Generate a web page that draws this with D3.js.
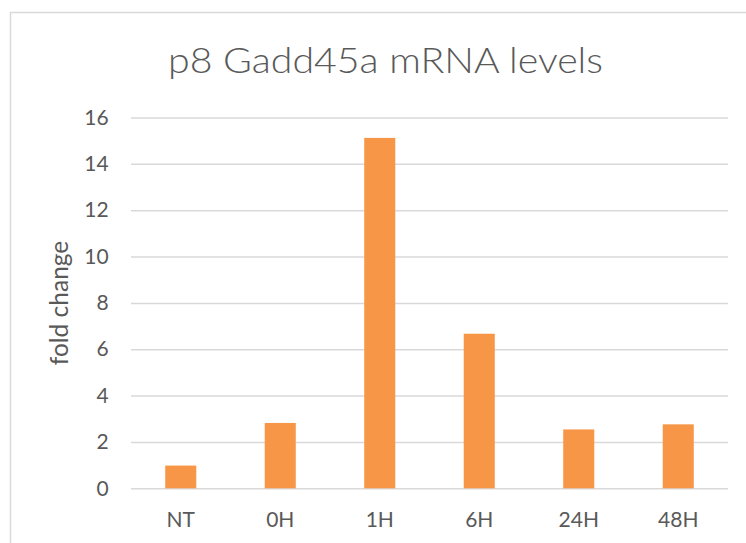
<!DOCTYPE html>
<html><head><meta charset="utf-8">
<script src="https://cdn.jsdelivr.net/npm/d3@7"></script>
<style>body{margin:0;background:#fff;} svg{display:block;}</style>
</head><body>
<script>
const categories = ["NT","0H","1H","6H","24H","48H"];
const values = [0.98, 2.82, 15.12, 6.67, 2.54, 2.76];
const yTicks = [0,2,4,6,8,10,12,14,16];
const title = "p8 Gadd45a mRNA levels";
const yTitle = "fold change";

const W = 746, H = 543;
const svg = d3.select("body").append("svg").attr("width", W).attr("height", H);
const font = "Lato, 'Open Sans', sans-serif";
const txt = "#595959";

// chart frame
svg.append("path").attr("d", "M10.5,543 L10.5,12.5 L746,12.5")
  .attr("fill","none").attr("stroke","#d9d9d9").attr("stroke-width",1.5);

const x = d3.scaleBand().domain(categories).range([131, 728]).paddingInner(0.688).paddingOuter(0.344);
const y = d3.scaleLinear().domain([0,16]).range([488.3, 117.5]);

// gridlines
const yAxis = d3.axisLeft(y).tickValues(yTicks).tickSize(-(728-131)).tickPadding(22.3);
const gy = svg.append("g").attr("transform","translate(131,0)").call(yAxis);
gy.select(".domain").remove();
gy.selectAll(".tick line").attr("stroke","#d9d9d9").attr("stroke-width",1.5);
gy.selectAll(".tick text").attr("fill",txt).style("font-family",font).style("font-size","21px");

// bars
svg.append("g").selectAll("rect").data(values).join("rect")
  .attr("x",(d,i)=>x(categories[i])).attr("width",x.bandwidth())
  .attr("y",d=>y(d)).attr("height",d=>y(0)-y(d))
  .attr("fill","#f79646");

// x axis
const xAxis = d3.axisBottom(x).tickSize(0).tickPadding(24);
const gx = svg.append("g").attr("transform","translate(0,488.3)").call(xAxis);
gx.select(".domain").remove();
gx.selectAll(".tick text").attr("fill",txt).style("font-family",font).style("font-size","21px");

// titles
svg.append("text").attr("x",385.5).attr("y",72.7).attr("text-anchor","middle")
  .attr("textLength",435).attr("lengthAdjust","spacingAndGlyphs")
  .attr("fill",txt).style("font-family",font).style("font-weight",300).style("font-size","36px").text(title);
svg.append("text").attr("transform","translate(67.5,303) rotate(-90)").attr("text-anchor","middle")
  .attr("fill",txt).style("font-family",font).style("font-size","24.5px").text(yTitle);
</script>
</body></html>
